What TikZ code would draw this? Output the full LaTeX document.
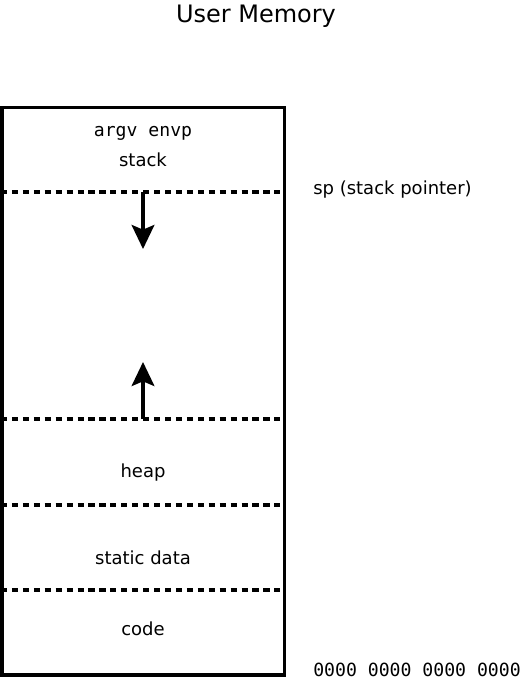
\documentclass[tikz,border=0pt]{standalone}
\usepackage{fontspec}
\setmainfont{DejaVu Sans}
\setmonofont{DejaVu Sans Mono}
\usetikzlibrary{arrows.meta}

\tikzset{
  wall/.style={line width=2.8pt},
  split/.style={line width=2.6pt, dash pattern=on 4.6pt off 3.6pt},
  growth/.style={line width=2.6pt, -{Stealth[length=18pt,width=17pt,inset=3.5pt]}},
  memtext/.style={font=\fontsize{13.5}{16}\selectfont, inner sep=0pt},
  monotext/.style={font=\fontsize{13.6}{16}\ttfamily, inner sep=0pt}
}

\begin{document}
\begin{tikzpicture}[x=0.75pt,y=-0.75pt]
\useasboundingbox (0,0) rectangle (521,679);

% title
\node[font=\fontsize{18}{21}\selectfont, inner sep=0pt] (title) at (256,16) {User Memory};

% memory block
\draw[wall] (1.9,107.5) rectangle (284.5,675);

% region boundaries
\coordinate (s1) at (1,192);   \coordinate (s2) at (280,192);
\coordinate (h1) at (1,419);   \coordinate (h2) at (280,419);
\coordinate (d1) at (1,505);   \coordinate (d2) at (280,505);
\coordinate (c1) at (1,590);   \coordinate (c2) at (280,590);
\draw[split] (s1) -- (s2);
\draw[split] (h1) -- (h2);
\draw[split] (d1) -- (d2);
\draw[split] (c1) -- (c2);

% growth arrows
\coordinate (sptop) at (143,192);
\coordinate (spend) at (143,249);
\coordinate (hptop) at (143,419);
\coordinate (hpend) at (143,362);
\draw[growth] (sptop) -- (spend);
\draw[growth] (hptop) -- (hpend);

% labels
\node[monotext] (args) at (143,133) {argv envp};
\node[memtext] (stack) at (143,160) {stack};
\node[memtext, anchor=west] (sp) at (313,189.5) {sp (stack pointer)};
\node[memtext] (heap) at (143,472.5) {heap};
\node[memtext] (static) at (143,557.5) {static data};
\node[memtext] (code) at (143,628.5) {code};
\node[monotext, anchor=west] (zero) at (313,670) {0000 0000 0000 0000};

\end{tikzpicture}
\end{document}
